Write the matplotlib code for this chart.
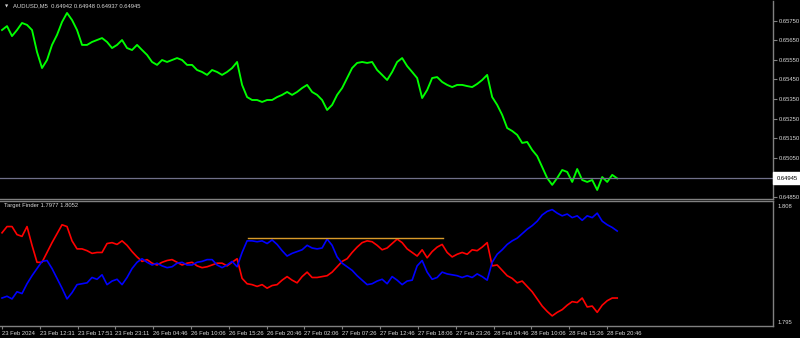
import numpy as np
import matplotlib
matplotlib.use("Agg")
import matplotlib.pyplot as plt
import matplotlib.transforms as mtransforms

# M5 bars since 23 Feb 2024 ; one sample read every ~8.47 bars
SAMPLE_BARS = 8.466

price = [0.65702, 0.65722, 0.65671, 0.65702, 0.65738, 0.65728, 0.65702, 0.65590, 0.65508, 0.65549,
         0.65626, 0.65677, 0.65743, 0.65789, 0.65753, 0.65702, 0.65626, 0.65626, 0.65641, 0.65651,
         0.65661, 0.65641, 0.65610, 0.65626, 0.65651, 0.65610, 0.65600, 0.65626, 0.65600, 0.65575,
         0.65539, 0.65524, 0.65549, 0.65539, 0.65549, 0.65559, 0.65549, 0.65524, 0.65524, 0.65498,
         0.65488, 0.65473, 0.65498, 0.65488, 0.65473, 0.65488, 0.65508, 0.65539, 0.65422, 0.65360,
         0.65345, 0.65345, 0.65335, 0.65345, 0.65345, 0.65360, 0.65371, 0.65386, 0.65371, 0.65386,
         0.65406, 0.65422, 0.65386, 0.65371, 0.65345, 0.65294, 0.65320, 0.65371, 0.65406, 0.65457,
         0.65508, 0.65534, 0.65539, 0.65534, 0.65539, 0.65498, 0.65473, 0.65447, 0.65488, 0.65539,
         0.65559, 0.65518, 0.65488, 0.65457, 0.65355, 0.65396, 0.65457, 0.65462, 0.65437, 0.65422,
         0.65411, 0.65422, 0.65422, 0.65416, 0.65411, 0.65427, 0.65447, 0.65473, 0.65360, 0.65320,
         0.65269, 0.65202, 0.65187, 0.65167, 0.65126, 0.65131, 0.65090, 0.65059, 0.65003, 0.64947,
         0.64912, 0.64947, 0.64988, 0.64978, 0.64927, 0.64993, 0.64937, 0.64927, 0.64937, 0.64886,
         0.64952, 0.64927, 0.64963, 0.64945]

red = [1.8050, 1.8057, 1.8057, 1.8048, 1.8046, 1.8057, 1.8036, 1.8017, 1.8017, 1.8028,
       1.8039, 1.8049, 1.8059, 1.8057, 1.8041, 1.8032, 1.8032, 1.8030, 1.8027, 1.8028,
       1.8028, 1.8038, 1.8039, 1.8037, 1.8041, 1.8036, 1.8029, 1.8023, 1.8018, 1.8020,
       1.8016, 1.8014, 1.8017, 1.8019, 1.8020, 1.8017, 1.8014, 1.8016, 1.8017, 1.8013,
       1.8011, 1.8012, 1.8014, 1.8016, 1.8016, 1.8013, 1.8017, 1.8021, 1.7999, 1.7993,
       1.7992, 1.7990, 1.7992, 1.7988, 1.7991, 1.7992, 1.7997, 1.8001, 1.7997, 1.7994,
       1.8001, 1.8006, 1.8000, 1.8000, 1.8001, 1.8002, 1.8006, 1.8012, 1.8018, 1.8021,
       1.8028, 1.8034, 1.8039, 1.8041, 1.8040, 1.8036, 1.8031, 1.8033, 1.8038, 1.8043,
       1.8039, 1.8032, 1.8028, 1.8024, 1.8031, 1.8022, 1.8029, 1.8034, 1.8037, 1.8028,
       1.8023, 1.8026, 1.8028, 1.8026, 1.8031, 1.8030, 1.8034, 1.8039, 1.8013, 1.8014,
       1.8008, 1.8002, 1.7999, 1.7994, 1.7996, 1.7990, 1.7984, 1.7976, 1.7968, 1.7962,
       1.7957, 1.7961, 1.7964, 1.7969, 1.7973, 1.7972, 1.7977, 1.7967, 1.7968, 1.7961,
       1.7969, 1.7974, 1.7977, 1.7977]

blue = [1.7977, 1.7979, 1.7976, 1.7984, 1.7982, 1.7993, 1.8002, 1.8010, 1.8018, 1.8019,
        1.8010, 1.7999, 1.7988, 1.7976, 1.7983, 1.7992, 1.7993, 1.7994, 1.8000, 1.7998,
        1.8003, 1.7992, 1.7996, 1.7998, 1.7992, 1.8000, 1.8010, 1.8017, 1.8021, 1.8017,
        1.8014, 1.8016, 1.8013, 1.8011, 1.8012, 1.8016, 1.8017, 1.8014, 1.8014, 1.8017,
        1.8018, 1.8020, 1.8020, 1.8014, 1.8011, 1.8014, 1.8018, 1.8012, 1.8028, 1.8041,
        1.8041, 1.8040, 1.8041, 1.8038, 1.8042, 1.8037, 1.8030, 1.8024, 1.8027, 1.8029,
        1.8031, 1.8036, 1.8033, 1.8032, 1.8033, 1.8043, 1.8036, 1.8023, 1.8016, 1.8012,
        1.8008, 1.8002, 1.7997, 1.7992, 1.7993, 1.7996, 1.7998, 1.7993, 1.8001, 1.7997,
        1.7992, 1.7996, 1.7997, 1.8013, 1.8019, 1.8006, 1.7998, 1.8000, 1.8006, 1.8004,
        1.8003, 1.8002, 1.8000, 1.8002, 1.8000, 1.8004, 1.8001, 1.7997, 1.8017, 1.8026,
        1.8031, 1.8037, 1.8041, 1.8044, 1.8049, 1.8054, 1.8058, 1.8063, 1.8070, 1.8074,
        1.8076, 1.8072, 1.8069, 1.8071, 1.8067, 1.8069, 1.8064, 1.8069, 1.8067, 1.8072,
        1.8063, 1.8059, 1.8056, 1.8052]

target_level = 1.8044
target_bars = [416, 747]
bid = 0.64945

tick_bars = [0, 64, 128, 192, 256, 320, 384, 448, 512, 576, 640, 704, 768, 832, 896, 960, 1024]
tick_labels = ["23 Feb 2024", "23 Feb 12:31", "23 Feb 17:51", "23 Feb 23:11", "26 Feb 04:46",
               "26 Feb 10:06", "26 Feb 15:26", "26 Feb 20:46", "27 Feb 02:06", "27 Feb 07:26",
               "27 Feb 12:46", "27 Feb 18:06", "27 Feb 23:26", "28 Feb 04:46", "28 Feb 10:06",
               "28 Feb 15:26", "28 Feb 20:46"]
price_ticks = [0.6485, 0.6505, 0.6515, 0.6525, 0.6535, 0.6545, 0.6555, 0.6565, 0.6575]
ind_ticks = [1.795, 1.808]

FONT = "Liberation Sans"
FS = 4.2
FG = "#d8d8d8"
GRID = "#808080"

W, H = 800, 338
fig = plt.figure(figsize=(W / 100, H / 100), dpi=100, facecolor="black")

def px_axes(l, t, r, b):
    return fig.add_axes([l / W, 1 - b / H, (r - l) / W, (b - t) / H])

ax1 = px_axes(0, 1, 773, 199)
ax2 = px_axes(0, 201, 773, 326)
XL = (-3.4, 1305)

for ax in (ax1, ax2):
    ax.set_facecolor("black")
    ax.set_xlim(*XL)
    for s in ax.spines.values():
        s.set_color(GRID); s.set_linewidth(1.0)
    ax.spines["left"].set_visible(False)
    ax.yaxis.tick_right()
ax1.spines["top"].set_visible(False)

# price panel
x = np.arange(len(price)) * SAMPLE_BARS
ax1.plot(x, price, color="#00ff00", lw=1.35)
ax1.axhline(bid, color="#70708a", lw=0.9)
ax1.set_ylim(0.64840, 0.65850)
ax1.set_yticks(price_ticks)
ax1.set_yticklabels([f"{v:.5f}" for v in price_ticks])
ax1.tick_params(axis="y", direction="out", length=3, width=0.8, color=GRID,
                labelcolor=FG, labelsize=FS, pad=1)
ax1.set_xticks([])
for lb in ax1.get_yticklabels():
    lb.set_fontfamily(FONT)
tr = mtransforms.blended_transform_factory(ax1.transAxes, ax1.transData)
ax1.text(1.0045, bid, f"{bid:.5f}", transform=tr, fontsize=FS, family=FONT, color="black",
         va="center", ha="left", clip_on=False, zorder=5,
         bbox=dict(facecolor="white", edgecolor="white", pad=0.6, boxstyle="square"))

# indicator panel
xr = np.arange(len(red)) * SAMPLE_BARS
xb = np.arange(len(blue)) * SAMPLE_BARS
ax2.plot(xr, red, color="#ff0000", lw=1.2)
ax2.plot(xb, blue, color="#0000ff", lw=1.2)
ax2.plot(target_bars, [target_level, target_level], color="#d89a2a", lw=1.0)
ax2.set_ylim(1.79457, 1.80856)
ax2.set_yticks(ind_ticks)
ax2.set_yticklabels([f"{v:.3f}" for v in ind_ticks])
ax2.tick_params(axis="y", length=0, labelcolor=FG, labelsize=FS, pad=3)
for lb in ax2.get_yticklabels():
    lb.set_fontfamily(FONT)
ax2.set_xticks(tick_bars)
ax2.set_xticklabels(tick_labels)
ax2.tick_params(axis="x", direction="out", length=2.5, width=0.8, color=GRID,
                labelcolor=FG, labelsize=FS, pad=1)
for lb in ax2.get_xticklabels():
    lb.set_horizontalalignment("left"); lb.set_fontfamily(FONT)

fig.text(5 / W, 1 - 6 / H, "\u25bc", fontsize=3, color=FG, va="center", ha="left")
fig.text(13 / W, 1 - 6 / H, "AUDUSD,M5  0.64942 0.64948 0.64937 0.64945", fontsize=FS,
         family=FONT, color=FG, va="center", ha="left")
fig.text(4 / W, 1 - 206 / H, "Target Finder 1.7977 1.8052", fontsize=FS, family=FONT,
         color=FG, va="center", ha="left")

fig.savefig("out.png", dpi=100, facecolor="black")
